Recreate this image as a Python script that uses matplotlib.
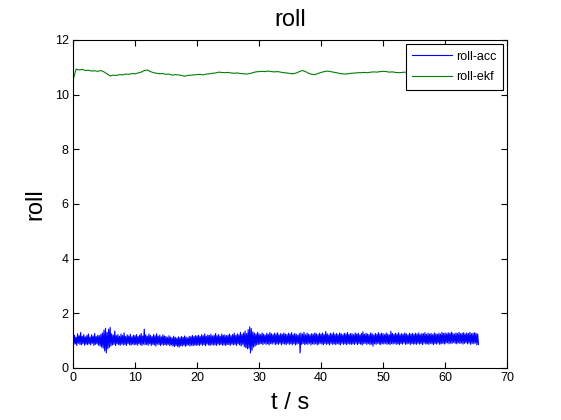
import numpy as np
import matplotlib
matplotlib.use("Agg")
import matplotlib.pyplot as plt

plt.rcParams['font.family'] = ['Liberation Sans', 'DejaVu Sans']

acc_dt = 0.125
acc_vals = [
    1.15,0.85,1.20,0.88,1.12,0.82,1.25,0.90,1.18,0.86,1.30,0.84,1.16,0.89,1.22,0.83,1.14,0.87,1.19,0.85,
    1.24,0.88,1.13,0.84,1.21,0.90,1.17,0.82,1.26,0.86,1.15,0.88,1.20,0.83,1.18,0.80,1.23,0.76,1.28,0.72,
    1.38,0.62,1.45,0.55,1.30,0.70,1.42,0.75,1.48,0.80,1.25,0.84,1.20,0.86,1.35,0.82,1.18,0.88,1.22,0.85,
    1.16,0.83,1.24,0.87,1.19,0.84,1.28,0.86,1.15,0.82,1.21,0.89,1.17,0.85,1.23,0.83,1.14,0.87,1.20,0.84,
    1.18,0.86,1.22,0.83,1.15,0.88,1.20,0.85,1.26,0.82,1.17,0.87,1.42,0.84,1.21,0.86,1.16,0.83,1.24,0.88,
    1.19,0.82,1.15,0.86,1.22,0.84,1.18,0.80,1.25,0.87,1.16,0.85,1.20,0.82,1.14,0.86,1.21,0.83,1.17,0.85,
    1.15,0.83,1.12,0.86,1.18,0.81,1.13,0.84,1.10,0.80,1.16,0.78,1.12,0.82,1.09,0.79,1.14,0.76,1.11,0.81,
    1.15,0.80,1.12,0.83,1.17,0.79,1.13,0.82,1.10,0.84,1.16,0.80,1.14,0.83,1.19,0.81,1.15,0.84,1.18,0.82,
    1.17,0.84,1.20,0.82,1.15,0.86,1.22,0.83,1.18,0.85,1.25,0.81,1.16,0.87,1.21,0.84,1.19,0.82,1.23,0.86,
    1.17,0.83,1.20,0.85,1.26,0.82,1.18,0.87,1.22,0.84,1.16,0.86,1.24,0.83,1.19,0.85,1.21,0.82,1.18,0.86,
    1.20,0.85,1.24,0.83,1.18,0.87,1.22,0.84,1.27,0.86,1.19,0.82,1.25,0.88,1.21,0.84,1.30,0.80,1.23,0.86,
    1.28,0.78,1.35,0.74,1.26,0.70,1.40,0.72,1.50,0.55,1.44,0.65,1.32,0.76,1.28,0.80,1.24,0.84,1.30,0.86,
    1.25,0.87,1.22,0.89,1.28,0.85,1.24,0.90,1.20,0.86,1.27,0.88,1.23,0.84,1.30,0.89,1.25,0.87,1.22,0.91,
    1.27,0.85,1.24,0.88,1.29,0.86,1.21,0.90,1.26,0.84,1.23,0.89,1.28,0.87,1.24,0.85,1.22,0.90,1.27,0.86,
    1.24,0.88,1.29,0.85,1.22,0.89,1.26,0.84,1.23,0.87,1.20,0.90,1.25,0.55,1.28,0.86,1.24,0.89,1.30,0.85,
    1.22,0.88,1.27,0.86,1.24,0.90,1.21,0.84,1.26,0.88,1.23,0.86,1.28,0.89,1.25,0.84,1.22,0.87,1.27,0.90,
    1.24,0.87,1.28,0.85,1.22,0.89,1.33,0.86,1.25,0.88,1.21,0.84,1.27,0.90,1.24,0.86,1.29,0.88,1.23,0.85,
    1.26,0.89,1.22,0.87,1.28,0.84,1.25,0.90,1.21,0.86,1.27,0.88,1.24,0.85,1.30,0.89,1.23,0.87,1.26,0.86,
    1.25,0.88,1.22,0.86,1.28,0.90,1.24,0.85,1.27,0.89,1.21,0.87,1.26,0.84,1.32,0.88,1.23,0.90,1.27,0.86,
    1.24,0.89,1.22,0.85,1.28,0.87,1.25,0.80,1.21,0.88,1.26,0.86,1.23,0.90,1.29,0.87,1.24,0.85,1.27,0.89,
    1.25,0.87,1.22,0.90,1.28,0.86,1.24,0.88,1.21,0.85,1.34,0.89,1.26,0.87,1.23,0.90,1.27,0.86,1.24,0.88,
    1.29,0.85,1.22,0.89,1.26,0.87,1.23,0.91,1.28,0.86,1.25,0.88,1.21,0.90,1.27,0.85,1.24,0.89,1.26,0.87,
    1.23,0.88,1.27,0.86,1.24,0.90,1.28,0.87,1.22,0.89,1.26,0.85,1.25,0.91,1.29,0.87,1.23,0.88,1.27,0.86,
    1.24,0.90,1.26,0.88,1.22,0.85,1.28,0.89,1.25,0.87,1.23,0.91,1.27,0.86,1.24,0.88,1.30,0.90,1.26,0.87,
    1.28,0.90,1.25,0.92,1.29,0.88,1.26,0.91,1.31,0.89,1.27,0.93,1.24,0.90,1.28,0.88,1.26,0.92,1.30,0.89,
    1.25,0.91,1.27,0.87,1.29,0.90,1.24,0.92,1.28,0.88,1.26,0.91,1.30,0.86,1.25,0.90,1.27,0.88,1.29,0.91,
    1.26,0.84,1.24,0.86,
]
acc_t = [i * acc_dt for i in range(len(acc_vals))]

ekf_dt = 0.5
ekf_vals = [
    10.50, 10.93, 10.90, 10.92, 10.88, 10.89, 10.86, 10.87, 10.85, 10.88,
    10.83, 10.76, 10.68, 10.71, 10.70, 10.73, 10.72, 10.75, 10.74, 10.77,
    10.76, 10.79, 10.82, 10.88, 10.90, 10.84, 10.80, 10.78, 10.76, 10.77,
    10.74, 10.75, 10.71, 10.73, 10.72, 10.70, 10.67, 10.70, 10.71, 10.72,
    10.73, 10.74, 10.72, 10.75, 10.76, 10.78, 10.79, 10.82, 10.81, 10.80,
    10.81, 10.79, 10.78, 10.79, 10.77, 10.76, 10.75, 10.77, 10.80, 10.83,
    10.84, 10.85, 10.84, 10.86, 10.84, 10.83, 10.84, 10.82, 10.80, 10.79,
    10.77, 10.76, 10.79, 10.84, 10.88, 10.84, 10.78, 10.74, 10.73, 10.77,
    10.81, 10.84, 10.86, 10.84, 10.82, 10.80, 10.77, 10.76, 10.75, 10.77,
    10.78, 10.79, 10.80, 10.80, 10.81, 10.80, 10.82, 10.83, 10.82, 10.84,
    10.85, 10.84, 10.82, 10.83, 10.81, 10.80, 10.81,
    10.82, 10.80, 10.79, 10.81, 10.83, 10.82, 10.80, 10.78, 10.79, 10.81,
    10.82, 10.80, 10.81, 10.83, 10.82, 10.80, 10.79, 10.80, 10.82, 10.81,
    10.80, 10.82, 10.81, 10.80, 10.79,
]
ekf_t = [i * ekf_dt for i in range(len(ekf_vals))]

xticks = [0, 10, 20, 30, 40, 50, 60, 70]
yticks = [0, 2, 4, 6, 8, 10, 12]

fig = plt.figure(figsize=(5.61, 4.2), dpi=100)
ax = fig.add_axes([0.13, 0.124, 0.774, 0.781])
ax.plot(acc_t, acc_vals, color='#0000ff', lw=0.8, label='roll-acc')
ax.plot(ekf_t, ekf_vals, color='#008000', lw=0.8, label='roll-ekf')
ax.set_xlim(0, 70)
ax.set_ylim(0, 12)
ax.set_xticks(xticks)
ax.set_yticks(yticks)
ax.tick_params(direction='in', top=True, right=True, labelsize=9, length=4, width=0.8, pad=3)
for s in ax.spines.values():
    s.set_linewidth(0.8)
ax.set_title('roll', fontsize=17, pad=10)
ax.set_xlabel('t / s', fontsize=17, labelpad=6)
ax.set_ylabel('roll', fontsize=17, labelpad=6)
leg = ax.legend(loc='upper right', fontsize=9, fancybox=False, framealpha=1,
                edgecolor='black', borderpad=0.5, handlelength=3.2, handletextpad=0.35,
                labelspacing=0.7, borderaxespad=0.35)
leg.get_frame().set_linewidth(0.8)
fig.savefig('out.png', dpi=100)
